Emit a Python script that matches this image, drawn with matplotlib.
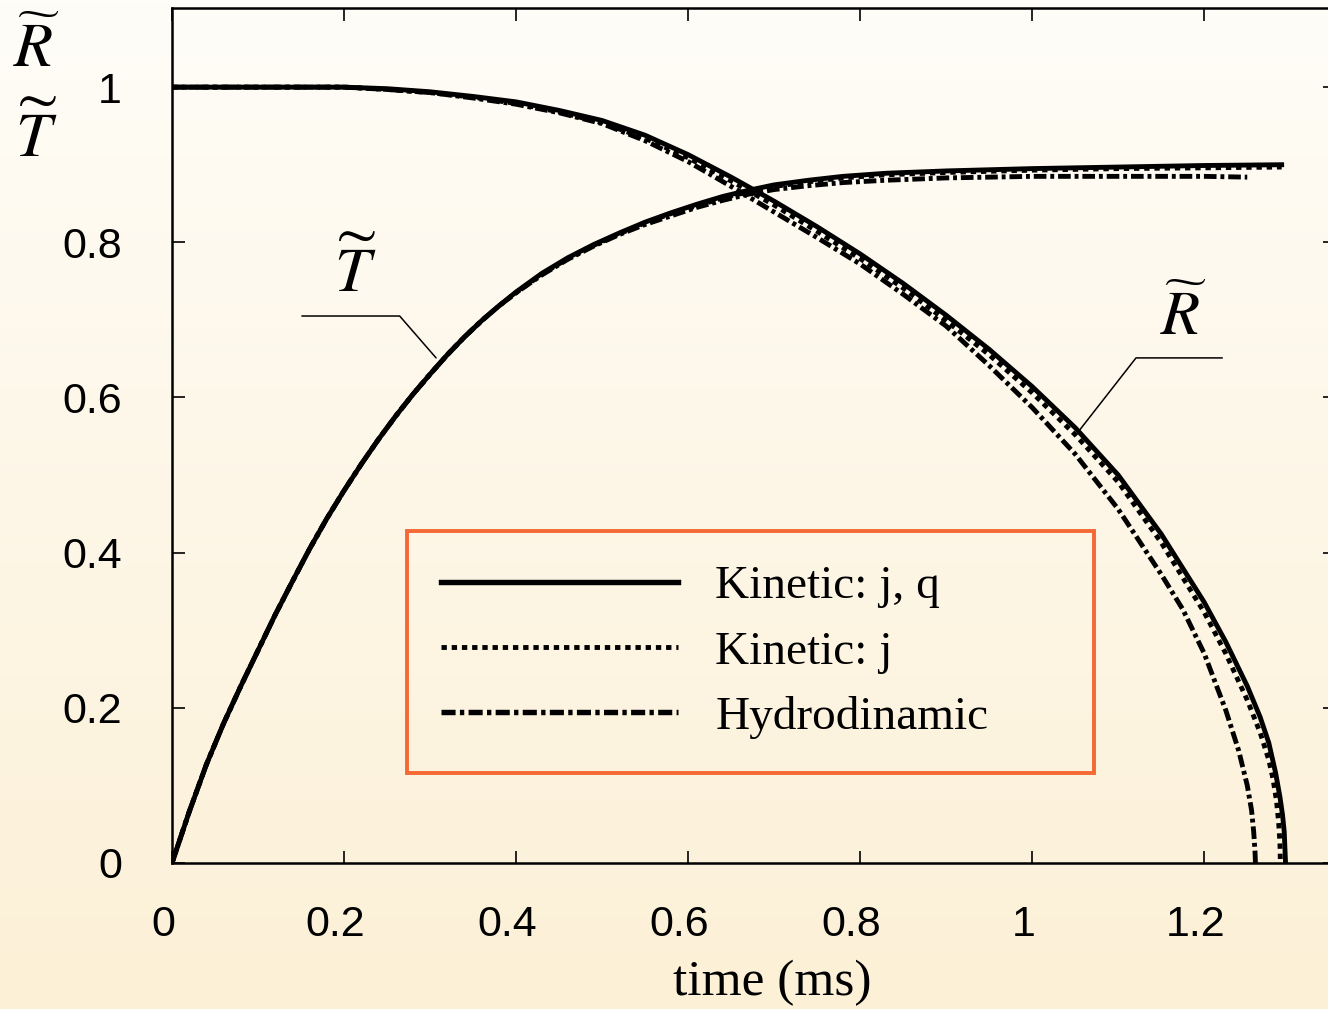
import numpy as np
import matplotlib
matplotlib.use('Agg')
import matplotlib.pyplot as plt
from matplotlib.lines import Line2D
from matplotlib.transforms import ScaledTranslation

plt.rcParams.update({
    'font.family': ['Liberation Sans', 'DejaVu Sans'],
    'mathtext.fontset': 'stix',
    'xtick.direction': 'in',
    'ytick.direction': 'in',
})

# ---- data ----
# T~ : rising curve
t_T = [0, 0.02, 0.04, 0.06, 0.08, 0.10, 0.12, 0.14, 0.16, 0.18, 0.20, 0.22, 0.24, 0.26,
       0.28, 0.30, 0.32, 0.34, 0.36, 0.38, 0.40, 0.43, 0.46, 0.49, 0.52, 0.55, 0.58, 0.61,
       0.64, 0.67, 0.70, 0.74, 0.78, 0.83, 0.90, 1.00, 1.10, 1.20, 1.29]
T_kin_jq = [0, 0.066, 0.127, 0.180, 0.228, 0.274, 0.320, 0.363, 0.405, 0.444, 0.480, 0.514,
            0.546, 0.576, 0.604, 0.630, 0.655, 0.678, 0.699, 0.718, 0.736, 0.760, 0.780, 0.797,
            0.812, 0.826, 0.838, 0.849, 0.859, 0.867, 0.874, 0.880, 0.885, 0.889, 0.892, 0.895,
            0.897, 0.899, 0.900]
T_kin_j = [0, 0.066, 0.127, 0.180, 0.228, 0.274, 0.320, 0.363, 0.405, 0.444, 0.480, 0.514,
           0.546, 0.576, 0.604, 0.630, 0.655, 0.678, 0.699, 0.718, 0.735, 0.759, 0.779, 0.796,
           0.811, 0.825, 0.837, 0.847, 0.857, 0.865, 0.872, 0.878, 0.883, 0.887, 0.890, 0.893,
           0.895, 0.896, 0.897]
t_T_hyd = [0, 0.02, 0.04, 0.06, 0.08, 0.10, 0.12, 0.14, 0.16, 0.18, 0.20, 0.22, 0.24, 0.26,
           0.28, 0.30, 0.32, 0.34, 0.36, 0.38, 0.40, 0.43, 0.46, 0.49, 0.52, 0.55, 0.58, 0.61,
           0.64, 0.67, 0.70, 0.74, 0.78, 0.83, 0.90, 1.00, 1.10, 1.20, 1.25]
T_hyd = [0, 0.066, 0.127, 0.180, 0.228, 0.274, 0.320, 0.363, 0.405, 0.444, 0.480, 0.514,
         0.546, 0.576, 0.604, 0.630, 0.655, 0.678, 0.699, 0.718, 0.735, 0.758, 0.778, 0.795,
         0.810, 0.823, 0.834, 0.845, 0.854, 0.862, 0.868, 0.873, 0.877, 0.880, 0.883, 0.885,
         0.885, 0.885, 0.884]

# R~ : falling curve
t_R = [0, 0.10, 0.20, 0.25, 0.30, 0.35, 0.40, 0.45, 0.50, 0.55, 0.60, 0.65, 0.70, 0.75,
       0.80, 0.85, 0.90, 0.95, 1.00, 1.05, 1.10, 1.15, 1.20, 1.225, 1.25, 1.265, 1.275,
       1.283, 1.288, 1.291, 1.293, 1.2945]
R_kin_jq = [1.0, 1.0, 1.0, 0.998, 0.994, 0.988, 0.981, 0.970, 0.957, 0.938, 0.913, 0.884,
            0.853, 0.820, 0.785, 0.747, 0.706, 0.662, 0.614, 0.561, 0.500, 0.424, 0.336,
            0.285, 0.228, 0.188, 0.155, 0.116, 0.085, 0.062, 0.040, 0.0]
t_R_j = [0, 0.10, 0.20, 0.25, 0.30, 0.35, 0.40, 0.45, 0.50, 0.55, 0.60, 0.65, 0.70, 0.75,
         0.80, 0.85, 0.90, 0.95, 1.00, 1.05, 1.10, 1.15, 1.20, 1.225, 1.25, 1.265, 1.275,
         1.28, 1.284, 1.2865, 1.288, 1.2885]
R_kin_j = [1.0, 1.0, 1.0, 0.997, 0.993, 0.987, 0.979, 0.968, 0.954, 0.934, 0.909, 0.879,
           0.848, 0.814, 0.779, 0.741, 0.699, 0.655, 0.606, 0.552, 0.491, 0.413, 0.323,
           0.270, 0.210, 0.168, 0.133, 0.108, 0.080, 0.052, 0.026, 0.0]
t_R_hyd = [0, 0.10, 0.20, 0.25, 0.30, 0.35, 0.40, 0.45, 0.50, 0.55, 0.60, 0.65, 0.70, 0.75,
           0.80, 0.85, 0.90, 0.95, 1.00, 1.05, 1.10, 1.15, 1.175, 1.20, 1.225, 1.24, 1.25,
           1.255, 1.2575, 1.259, 1.2595]
R_hyd = [1.0, 1.0, 1.0, 0.997, 0.993, 0.986, 0.978, 0.967, 0.953, 0.931, 0.904, 0.872,
         0.839, 0.806, 0.772, 0.733, 0.692, 0.641, 0.587, 0.527, 0.456, 0.372, 0.327,
         0.270, 0.197, 0.145, 0.100, 0.068, 0.040, 0.015, 0.0]

labels = ['Kinetic: j, q', 'Kinetic: j', 'Hydrodinamic']
xticks = [0, 0.2, 0.4, 0.6, 0.8, 1.0, 1.2]
xticklabels = ['0', '0.2', '0.4', '0.6', '0.8', '1', '1.2']
yticks = [0, 0.2, 0.4, 0.6, 0.8, 1.0]
yticklabels = ['0', '0.2', '0.4', '0.6', '0.8', '1']

SERIF = ['Liberation Serif', 'DejaVu Serif']
LW = 3.5
DOT = (0, (1.1, 1.0))
DASHDOT = (0, (2.6, 0.8, 0.8, 0.8))

fig = plt.figure(figsize=(13.28, 10.09), dpi=100)

# background gradient (white at top -> pale cream at bottom)
bg = fig.add_axes([0, 0, 1, 1], zorder=-10)
grad = np.linspace(0, 1, 256)[:, None]
top = np.array([255, 253, 248]) / 255
bot = np.array([252, 240, 214]) / 255
img = top[None, None, :] * (1 - grad[..., None]) + bot[None, None, :] * grad[..., None]
bg.imshow(img, aspect='auto', extent=[0, 1, 0, 1])
bg.axis('off')

ax = fig.add_axes([172 / 1328, 146 / 1009, 1163 / 1328, 855 / 1009])
ax.set_facecolor('none')

ax.plot(t_T, T_kin_jq, color='black', lw=LW, ls='-')
ax.plot(t_T, T_kin_j, color='black', lw=LW, ls=DOT)
ax.plot(t_T_hyd, T_hyd, color='black', lw=LW, ls=DASHDOT)
ax.plot(t_R, R_kin_jq, color='black', lw=LW, ls='-')
ax.plot(t_R_j, R_kin_j, color='black', lw=LW, ls=DOT)
ax.plot(t_R_hyd, R_hyd, color='black', lw=LW, ls=DASHDOT)

ax.set_xlim(0, 1.352)
ax.set_ylim(0, 1.102)
ax.set_xticks(xticks)
ax.set_xticklabels(xticklabels)
ax.set_yticks(yticks)
ax.set_yticklabels(yticklabels)
ax.tick_params(axis='both', which='major', length=9, width=1.2, labelsize=31,
               top=True, right=True, color='black')
ax.tick_params(axis='x', pad=30)
ax.tick_params(axis='y', pad=36)
for sp in ax.spines.values():
    sp.set_linewidth(1.8)
for lbl in ax.get_xticklabels():
    lbl.set_transform(lbl.get_transform() + ScaledTranslation(-9 / 100, 0, fig.dpi_scale_trans))

ax.set_xlabel('time (ms)', family=SERIF, fontsize=37, labelpad=11)
ax.xaxis.label.set_x(0.516)

# axis symbol at the top-left corner
fig.text(36 / 1328, 1 - 50 / 1009, r'$\widetilde{R}$', fontsize=46, ha='center', va='center')
fig.text(36 / 1328, 1 - 138 / 1009, r'$\widetilde{T}$', fontsize=46, ha='center', va='center')

# curve labels with leader lines
ax.text(0.213, 0.760, r'$\widetilde{T}$', fontsize=46, ha='center', va='center')
ax.annotate('', xy=(0.307, 0.651), xytext=(0.151, 0.705),
            arrowprops=dict(arrowstyle='-', lw=1.1, color='black', shrinkA=0, shrinkB=0,
                            connectionstyle='angle,angleA=0,angleB=-49,rad=0'))
ax.text(1.176, 0.703, r'$\widetilde{R}$', fontsize=46, ha='center', va='center')
ax.annotate('', xy=(1.053, 0.555), xytext=(1.221, 0.651),
            arrowprops=dict(arrowstyle='-', lw=1.1, color='black', shrinkA=0, shrinkB=0,
                            connectionstyle='angle,angleA=0,angleB=52,rad=0'))

handles = [Line2D([], [], color='black', lw=LW + 0.4, ls='-'),
           Line2D([], [], color='black', lw=LW, ls=DOT),
           Line2D([], [], color='black', lw=LW + 0.4, ls=DASHDOT)]
leg = ax.legend(handles, labels, loc='lower left',
                bbox_to_anchor=(235 / 1163, 90 / 855, 687 / 1163, 241 / 855),
                mode='expand', borderaxespad=0, handlelength=5.0, handletextpad=0.8,
                borderpad=0.73, labelspacing=0.465, fancybox=False,
                prop={'family': SERIF, 'size': 34})
leg.get_frame().set_edgecolor('#F2460A')
leg.get_frame().set_facecolor('none')
leg.get_frame().set_linewidth(2.8)

fig.savefig('out.png', dpi=100)
